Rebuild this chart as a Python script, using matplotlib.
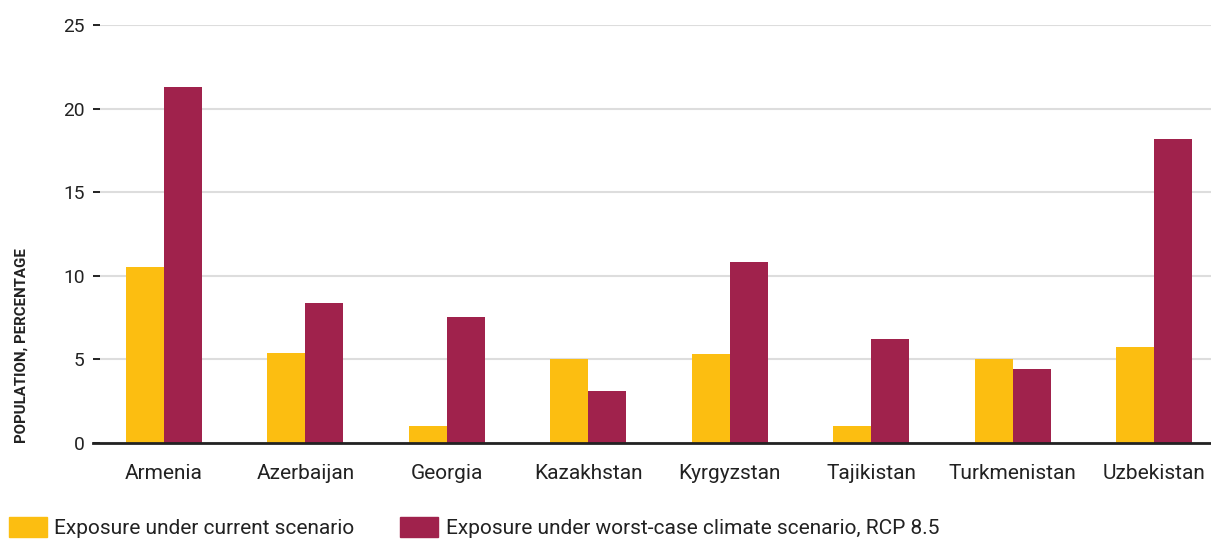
import matplotlib
matplotlib.use("Agg")
import matplotlib.pyplot as plt
from matplotlib.patches import Patch
import numpy as np

plt.rcParams['font.family'] = ['Roboto', 'DejaVu Sans']

countries = ["Armenia", "Azerbaijan", "Georgia", "Kazakhstan",
             "Kyrgyzstan", "Tajikistan", "Turkmenistan", "Uzbekistan"]
current = [10.5, 5.4, 1.0, 5.0, 5.35, 1.0, 5.0, 5.75]
worst_case = [21.3, 8.4, 7.55, 3.1, 10.85, 6.25, 4.4, 18.2]
series_names = ["Exposure under current scenario",
                "Exposure under worst-case climate scenario, RCP 8.5"]
yticks = [0, 5, 10, 15, 20, 25]

YELLOW = "#FCBE11"
MAROON = "#A0224C"
TEXT = "#222222"

fig = plt.figure(figsize=(12.11, 5.40), dpi=100)
ax = fig.add_axes([93 / 1211, 97 / 540, 1 - 93 / 1211, 418 / 540])

x = np.arange(len(countries))
w = 0.268
ax.bar(x - w / 2, current, w, color=YELLOW, zorder=3)
ax.bar(x + w / 2, worst_case, w, color=MAROON, zorder=3)

ax.set_xlim(-0.5, 7.4)
ax.set_ylim(0, 25)
ax.set_yticks(yticks)
ax.set_xticks(x)
ax.set_xticklabels(countries)

ax.yaxis.grid(True, color="#DDDDDD", linewidth=1.5, zorder=0)
for s in ["top", "right", "left"]:
    ax.spines[s].set_visible(False)
ax.spines["bottom"].set_color(TEXT)
ax.spines["bottom"].set_linewidth(2)
ax.spines["bottom"].set_zorder(4)

ax.tick_params(axis="y", direction="in", length=5, width=1.4, color=TEXT,
               pad=6, labelsize=13.8, labelcolor=TEXT)
ax.tick_params(axis="x", length=0, pad=15, labelsize=15, labelcolor=TEXT)

fig.text(22 / 1211, 97 / 540, "POPULATION, PERCENTAGE", rotation=90,
         ha="center", va="bottom", fontsize=10.8, fontweight="bold", color=TEXT)

# legend swatches sit along the bottom edge
handles = [Patch(color=YELLOW), Patch(color=MAROON)]
fig.legend(handles, series_names, loc="lower left", ncol=2,
           bbox_to_anchor=(7 / 1211, 0.0), frameon=False, borderpad=0.1,
           borderaxespad=0, fontsize=15, handlelength=1.83, handleheight=1.1,
           handletextpad=0.34, columnspacing=2.2, labelcolor=TEXT)

fig.savefig("out.png", dpi=100)
